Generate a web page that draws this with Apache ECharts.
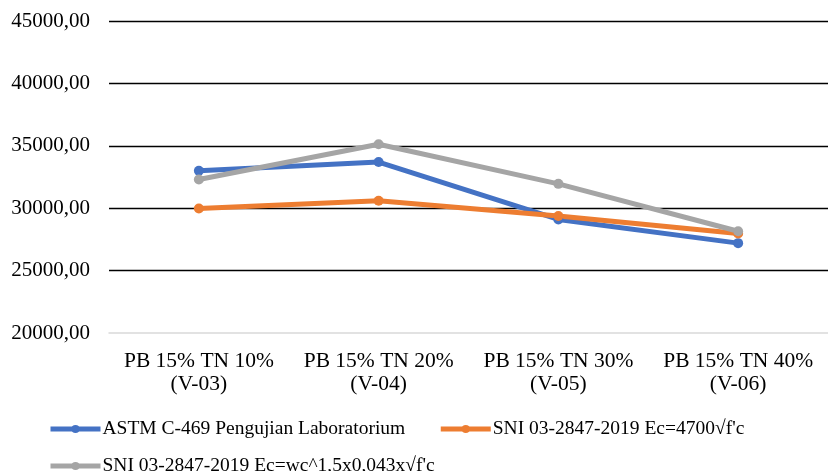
<!DOCTYPE html>
<html>
<head>
<meta charset="utf-8">
<script src="https://cdn.jsdelivr.net/npm/echarts@6/dist/echarts.min.js"></script>
<style>
  html, body { margin: 0; padding: 0; background: #fff; }
  #container { width: 828px; height: 471px; }
</style>
</head>
<body>
<div id="container"></div>
<script>
'use strict';

// kategori benda uji
var categories = ['PB 15% TN 10%\n(V-03)', 'PB 15% TN 20%\n(V-04)', 'PB 15% TN 30%\n(V-05)', 'PB 15% TN 40%\n(V-06)'];

var seriesNames = [
	'ASTM C-469 Pengujian Laboratorium',
	'SNI 03-2847-2019 Ec=4700√f\'c',
	'SNI 03-2847-2019 Ec=wc^1,5x0,043x√f\'c'
];

var astmValues = [33000, 33700, 29100, 27200];
var sni4700Values = [29970, 30600, 29380, 27970];
var sniWcValues = [32300, 35120, 31950, 28150];

var yTicks = { min: 20000, max: 45000, interval: 5000 };

var fontName = '"Liberation Serif", "Times New Roman", serif';

var dom = document.getElementById('container');
var myChart = echarts.init(dom, null, { renderer: 'canvas' });

var lineSeries = function(name, data, color) {
	return {
		name: name,
		type: 'line',
		data: data,
		symbol: 'circle',
		symbolSize: 10,
		lineStyle: {
			width: 5,
			color: color
		},
		itemStyle: {
			color: color
		},
		animation: false
	};
};

var legendBase = function(names, top) {
	return {
		data: names,
		left: 48,
		top: top,
		padding: 0,
		itemWidth: 50,
		itemHeight: 10,
		itemGap: 33,
		lineStyle: {
			width: 5
		},
		textStyle: {
			fontFamily: fontName,
			fontSize: 19.5,
			color: '#000',
			padding: [0, 0, 0, -3]
		}
	};
};

var option = {
	backgroundColor: '#fff',
	textStyle: {
		fontFamily: fontName
	},
	grid: {
		left: 109,
		right: -7,
		top: 21,
		bottom: 138
	},
	legend: [
		legendBase([seriesNames[0], seriesNames[1]], 419),
		legendBase([seriesNames[2]], 456)
	],
	xAxis: {
		type: 'category',
		data: categories,
		boundaryGap: true,
		axisLine: {
			show: true,
			lineStyle: {
				color: '#d9d9d9',
				width: 1.5
			}
		},
		axisTick: {
			show: false
		},
		axisLabel: {
			interval: 0,
			fontFamily: fontName,
			fontSize: 21.5,
			color: '#000',
			lineHeight: 23,
			margin: 17
		}
	},
	yAxis: {
		type: 'value',
		min: yTicks.min,
		max: yTicks.max,
		interval: yTicks.interval,
		axisLine: {
			show: false
		},
		axisTick: {
			show: false
		},
		axisLabel: {
			fontFamily: fontName,
			fontSize: 21,
			color: '#000',
			margin: 19,
			formatter: function(value) {
				return value.toFixed(2).replace('.', ',');
			}
		},
		splitLine: {
			show: true,
			showMinLine: false,
			lineStyle: {
				color: '#000',
				width: 1.3
			}
		}
	},
	series: [
		lineSeries(seriesNames[0], astmValues, '#4472C4'),
		lineSeries(seriesNames[1], sni4700Values, '#ED7D31'),
		lineSeries(seriesNames[2], sniWcValues, '#A5A5A5')
	]
};

myChart.setOption(option, true);
</script>
</body>
</html>
